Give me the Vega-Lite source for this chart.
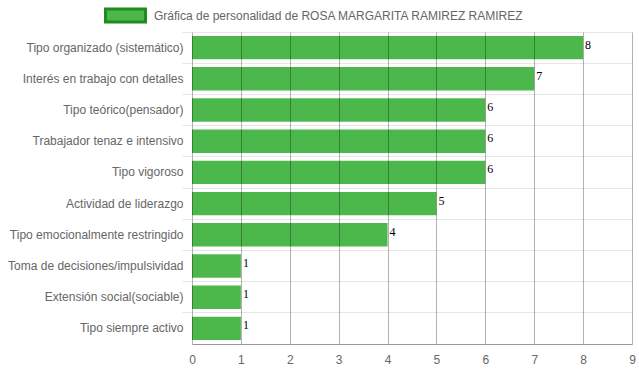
{
  "$schema": "https://vega.github.io/schema/vega-lite/v6.json",
  "autosize": "none",
  "width": 440,
  "height": 312,
  "padding": {"left": 192, "top": 32, "right": 7, "bottom": 28},
  "background": "white",
  "config": {
    "view": {"stroke": null},
    "font": "Liberation Sans"
  },
  "data": {
    "values": [
      {"rasgo": "Tipo organizado (sistemático)", "valor": 8, "serie": "Gráfica de personalidad de ROSA MARGARITA RAMIREZ RAMIREZ"},
      {"rasgo": "Interés en trabajo con detalles", "valor": 7, "serie": "Gráfica de personalidad de ROSA MARGARITA RAMIREZ RAMIREZ"},
      {"rasgo": "Tipo teórico(pensador)", "valor": 6, "serie": "Gráfica de personalidad de ROSA MARGARITA RAMIREZ RAMIREZ"},
      {"rasgo": "Trabajador tenaz e intensivo", "valor": 6, "serie": "Gráfica de personalidad de ROSA MARGARITA RAMIREZ RAMIREZ"},
      {"rasgo": "Tipo vigoroso", "valor": 6, "serie": "Gráfica de personalidad de ROSA MARGARITA RAMIREZ RAMIREZ"},
      {"rasgo": "Actividad de liderazgo", "valor": 5, "serie": "Gráfica de personalidad de ROSA MARGARITA RAMIREZ RAMIREZ"},
      {"rasgo": "Tipo emocionalmente restringido", "valor": 4, "serie": "Gráfica de personalidad de ROSA MARGARITA RAMIREZ RAMIREZ"},
      {"rasgo": "Toma de decisiones/impulsividad", "valor": 1, "serie": "Gráfica de personalidad de ROSA MARGARITA RAMIREZ RAMIREZ"},
      {"rasgo": "Extensión social(sociable)", "valor": 1, "serie": "Gráfica de personalidad de ROSA MARGARITA RAMIREZ RAMIREZ"},
      {"rasgo": "Tipo siempre activo", "valor": 1, "serie": "Gráfica de personalidad de ROSA MARGARITA RAMIREZ RAMIREZ"}
    ]
  },
  "encoding": {
    "y": {
      "field": "rasgo",
      "type": "nominal",
      "sort": null,
      "title": null,
      "scale": {"paddingInner": 0, "paddingOuter": 0},
      "axis": {
        "bandPosition": 0,
        "grid": true,
        "gridColor": "#e6e6e6",
        "gridWidth": 1,
        "ticks": true,
        "tickSize": 10,
        "tickColor": "#e6e6e6",
        "domain": false,
        "labelFont": "Liberation Sans",
        "labelFontSize": 12,
        "labelColor": "#666666",
        "labelPadding": -1,
        "labelLimit": 300
      }
    }
  },
  "layer": [
    {
      "mark": {"type": "bar", "height": {"band": 0.75}},
      "encoding": {
        "x": {
          "field": "valor",
          "type": "quantitative",
          "title": null,
          "scale": {"domain": [0, 9], "nice": false},
          "axis": {
            "values": [0, 1, 2, 3, 4, 5, 6, 7, 8, 9],
            "zindex": 1,
            "grid": true,
            "gridColor": "#000000",
            "gridOpacity": 0.3,
            "gridWidth": 1,
            "ticks": false,
            "domain": true,
            "domainColor": "#999999",
            "labelFont": "Liberation Sans",
            "labelFontSize": 12,
            "labelColor": "#666666",
            "labelPadding": 10,
            "labelFlush": false
          }
        },
        "color": {
          "field": "serie",
          "type": "nominal",
          "scale": {"range": ["#4cb84c"]},
          "legend": {
            "title": null,
            "orient": "none",
            "legendX": -88,
            "legendY": -38,
            "padding": 0,
            "symbolType": "M-1,-0.325H1V0.325H-1Z",
            "symbolSize": 1600,
            "symbolStrokeWidth": 3,
            "symbolStrokeColor": "#1e8c1e",
            "symbolOpacity": 1,
            "labelFont": "Liberation Sans",
            "labelFontSize": 12,
            "labelColor": "#666666",
            "labelOffset": 7,
            "labelLimit": 500
          }
        }
      }
    },
    {
      "mark": {"type": "text", "align": "left", "baseline": "middle", "dx": 2, "dy": -3, "font": "Liberation Serif", "fontSize": 12, "color": "#000000"},
      "encoding": {
        "x": {"field": "valor", "type": "quantitative"},
        "text": {"field": "valor", "type": "quantitative"}
      }
    }
  ]
}
